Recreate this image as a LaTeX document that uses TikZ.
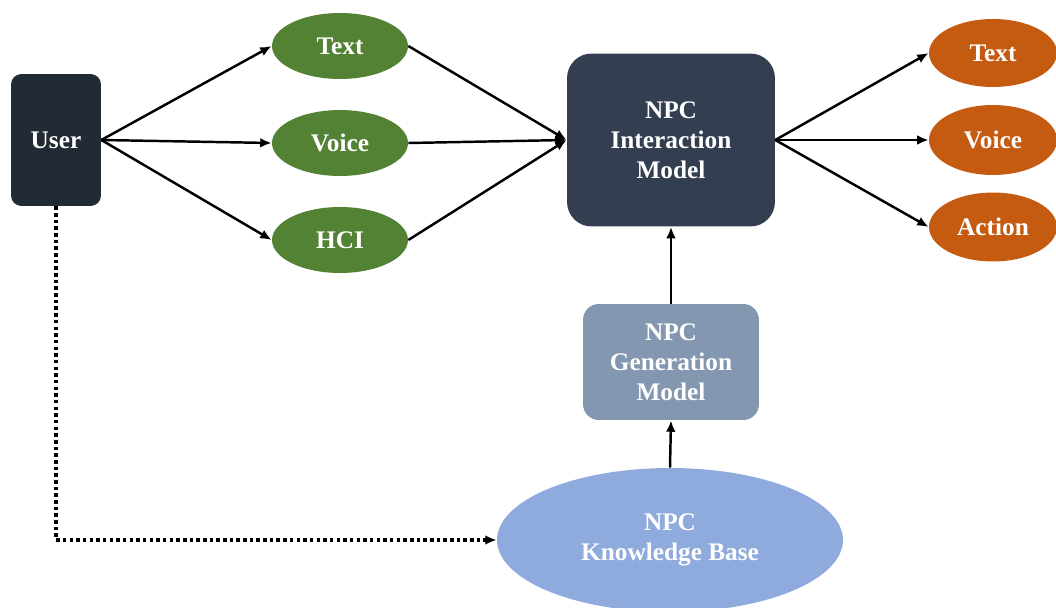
\documentclass[tikz,border=0pt]{standalone}
\usepackage{fontspec}
\setmainfont{Liberation Serif}
\usetikzlibrary{shapes.geometric, arrows.meta}

\definecolor{userdark}{HTML}{222A35}
\definecolor{modeldark}{HTML}{333F50}
\definecolor{genblue}{HTML}{8497B0}
\definecolor{kbblue}{HTML}{8FAADC}
\definecolor{ingreen}{HTML}{548235}
\definecolor{outorange}{HTML}{C55A11}

\tikzset{
	box/.style={rounded corners=9pt, align=center, text=white, inner sep=0pt,
		font=\fontsize{14.4}{17}\selectfont\bfseries},
	blob/.style={ellipse, inner sep=0pt, align=center, text=white,
		minimum width=2.72cm, minimum height=1.32cm,
		font=\fontsize{14.4}{17}\selectfont\bfseries},
	link/.style={-{Latex[length=6.5pt,width=5.5pt]}, line width=1.4pt},
}

\begin{document}
\begin{tikzpicture}[x=0.02cm, y=-0.02cm]
	\useasboundingbox (0,0) rectangle (1056,608);
	\node[box, fill=userdark, minimum width=1.8cm, minimum height=2.64cm, rounded corners=6pt] (user) at (56,140) {User};
	\node[blob, fill=ingreen] (intext) at (340,46) {Text};
	\node[blob, fill=ingreen] (invoice) at (340,143) {Voice};
	\node[blob, fill=ingreen] (inhci) at (340,240) {HCI};
	\node[box, fill=modeldark, minimum width=4.16cm, minimum height=3.46cm, rounded corners=14pt] (interact) at (671,140) {NPC\\Interaction\\Model};
	\node[blob, fill=outorange, minimum width=2.56cm, minimum height=1.36cm] (outtext) at (993,53) {Text};
	\node[blob, fill=outorange, minimum width=2.56cm, minimum height=1.4cm] (outvoice) at (993,140) {Voice};
	\node[blob, fill=outorange, minimum width=2.56cm, minimum height=1.38cm] (outaction) at (993,227) {Action};
	\node[box, fill=genblue, minimum width=3.52cm, minimum height=2.32cm] (generate) at (671,362) {NPC\\Generation\\Model};
	\node[blob, fill=kbblue, minimum width=6.92cm, minimum height=2.88cm] (kb) at (670,540) {NPC\\Knowledge Base};

	\draw[link] (user.east) -- (intext.west);
	\draw[link] (user.east) -- (invoice.west);
	\draw[link] (user.east) -- (inhci.west);
	\draw[link] (intext.east) -- (interact.west);
	\draw[link] (invoice.east) -- (interact.west);
	\draw[link] (inhci.east) -- (interact.west);
	\draw[link] (interact.east) -- (outtext.west);
	\draw[link] (interact.east) -- (outvoice.west);
	\draw[link] (interact.east) -- (outaction.west);
	\draw[link] (generate.north) -- (interact.south);
	\draw[link] (kb.north) -- (generate.south);
	\draw[link, dash pattern=on 2pt off 1.8pt, line width=2pt] (user.south) |- (kb.west);
\end{tikzpicture}
\end{document}
